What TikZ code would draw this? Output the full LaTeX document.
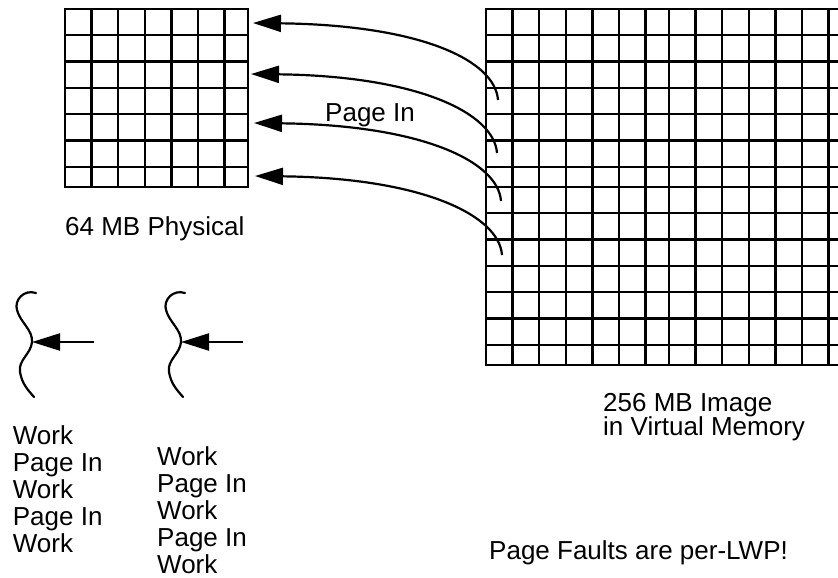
\documentclass[tikz,border=0pt]{standalone}
\usepackage{fontspec}
\setmainfont{Liberation Sans}
\usetikzlibrary{arrows.meta}
\newcommand{\tightlines}{\lineskiplimit=-20pt\relax}
\tikzset{
  gridline/.style={line width=2.3pt},
  thread/.style={line width=2.2pt,line cap=round},
  arr/.style={-{Triangle[length=28pt,width=17pt]},line width=2.2pt},
  lbl/.style={font=\fontsize{26}{27.2}\selectfont,inner sep=0pt,anchor=base west,align=left},
}
% one 7x7 block of page frames, top left corner at (#1,#2)
\newcommand{\pageblock}[2]{%
  \foreach \k in {1,...,6}{%
    \draw[gridline] ({#1+\k*26.6},#2) -- ++(0,178);
    \draw[gridline] (#1,{#2+\k*26.3}) -- ++(183,0);}
  \draw[gridline] (#1,#2) rectangle ++(183,178);}

\begin{document}
\begin{tikzpicture}[x=1pt,y=-1pt]
\useasboundingbox (0,0) rectangle (838,578);
\clip (0,0) rectangle (838,578);
% physical memory
\pageblock{65}{9}
% virtual memory
\pageblock{486}{9}\pageblock{669}{9}
\pageblock{486}{187}\pageblock{669}{187}
% page in
\foreach \i/\vx/\vy/\px/\py in {1/498/100/253/23,2/497/153/251/74,3/501/201/254/123,4/502/255/255/176}{
  \coordinate (V\i) at (\vx,\vy);
  \coordinate (P\i) at (\px,\py);
  \draw[arr] (V\i) .. controls +(-3,-40) and +(167,2) .. (P\i);}
\node[lbl] (pgin) at (325,121.7) {Page In};
\node[lbl] (phys) at (65,235.7) {64 MB Physical};
% base = last line
\node[lbl,font=\fontsize{26}{24}\selectfont\tightlines] (virt) at (603,435.7) {256 MB Image\\in Virtual Memory};
% threads
\foreach \sx/\n in {0/A,149/B}{
  \begin{scope}[shift={(\sx,0)}]
  \draw[thread] (36,293) .. controls (24,289) and (14,300) .. (17,310)
     .. controls (20,322) and (33,330) .. (32,342)
     .. controls (31,354) and (18,360) .. (20,372)
     .. controls (22,384) and (28,390) .. (34,397);
  \coordinate (T\n) at (32,342);
  \coordinate (F\n) at (94,342);
  \draw[arr] (F\n) -- (T\n);
  \end{scope}}
\node[lbl] (wkA) at (12.7,552.8) {Work\\Page In\\Work\\Page In\\Work};
\node[lbl] (wkB) at (157,573.8) {Work\\Page In\\Work\\Page In\\Work};
\node[lbl] (note) at (489,559) {Page Faults are per-LWP!};
\end{tikzpicture}
\end{document}
